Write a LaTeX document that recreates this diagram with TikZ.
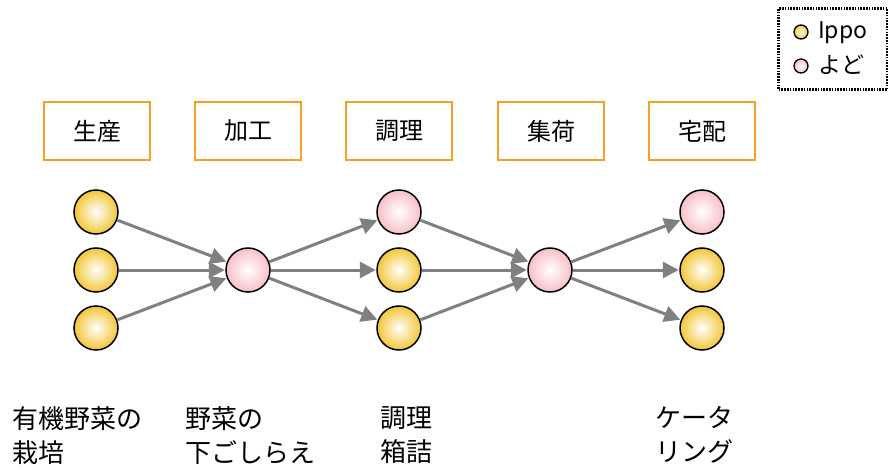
\documentclass[tikz,border=0pt]{standalone}
\usepackage{fontspec}
\setmainfont{Noto Sans CJK JP}
\usetikzlibrary{arrows.meta,shadings}
\definecolor{boxor}{HTML}{F7A021}
\definecolor{ylw}{HTML}{F2C637}
\definecolor{pnk}{HTML}{F7BFC6}
\definecolor{arrg}{HTML}{808080}
\tikzset{
  stagebox/.style={draw=boxor,line width=1.8pt,minimum width=106pt,minimum height=58pt,inner sep=0pt,font=\fontsize{24}{28}\selectfont},
  ydot/.style={circle,draw=black,line width=1.5pt,minimum size=44pt,inner sep=0pt,inner color=white,outer color=ylw},
  pdot/.style={circle,draw=black,line width=1.5pt,minimum size=44pt,inner sep=0pt,inner color=white,outer color=pnk},
  ysmall/.style={circle,draw=black,line width=1.3pt,minimum size=14pt,inner sep=0pt,inner color=white,outer color=ylw},
  psmall/.style={circle,draw=black,line width=1.3pt,minimum size=14pt,inner sep=0pt,inner color=white,outer color=pnk},
  flow/.style={draw=arrg,line width=3pt,-{Triangle[length=16pt,width=16pt]},shorten >=0.5pt},
  caption/.style={anchor=north west,align=left,inner sep=0pt,font=\fontsize{26}{34}\selectfont},
  legtext/.style={anchor=west,inner sep=0pt,font=\fontsize{23}{26}\selectfont},
}
\begin{document}
\begin{tikzpicture}[x=1pt,y=-1pt]
\useasboundingbox (0,0) rectangle (888,470);
% legend
\node[draw=black,line width=2.4pt,dash pattern=on 1.6pt off 1.2pt,minimum width=109pt,minimum height=81pt,inner sep=0pt] (leg) at (833,49) {};
\node[ysmall] (ly) at (801,32) {};
\node[psmall] (lp) at (801,66) {};
\node[legtext] (lyt) at (818,33) {Ippo};
\node[legtext] (lpt) at (818,65) {よど};
% stage boxes
\node[stagebox] (s1) at (97,131) {生産};
\node[stagebox] (s2) at (248,131) {加工};
\node[stagebox] (s3) at (399,131) {調理};
\node[stagebox] (s4) at (551,131) {集荷};
\node[stagebox] (s5) at (702,131) {宅配};
% circles
\node[ydot] (a1) at (96,212) {};
\node[ydot] (a2) at (96,270) {};
\node[ydot] (a3) at (96,328) {};
\node[pdot] (b) at (248,270) {};
\node[pdot] (c1) at (399,212) {};
\node[ydot] (c2) at (399,270) {};
\node[ydot] (c3) at (399,328) {};
\node[pdot] (d) at (550,270) {};
\node[pdot] (e1) at (702,212) {};
\node[ydot] (e2) at (702,270) {};
\node[ydot] (e3) at (702,328) {};
% arrows
\draw[flow] (a1) -- (b);
\draw[flow] (a2) -- (b);
\draw[flow] (a3) -- (b);
\draw[flow] (b) -- (c1);
\draw[flow] (b) -- (c2);
\draw[flow] (b) -- (c3);
\draw[flow] (c1) -- (d);
\draw[flow] (c2) -- (d);
\draw[flow] (c3) -- (d);
\draw[flow] (d) -- (e1);
\draw[flow] (d) -- (e2);
\draw[flow] (d) -- (e3);
% captions
\node[caption] (t1) at (12,406) {有機野菜の\\栽培};
\node[caption] (t2) at (185,406) {野菜の\\下ごしらえ};
\node[caption] (t3) at (380,406) {調理\\箱詰};
\node[caption] (t4) at (655,406) {ケータ\\リング};
\end{tikzpicture}
\end{document}
